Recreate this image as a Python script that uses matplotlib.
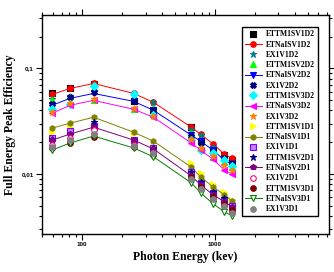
import numpy as np
import matplotlib
matplotlib.use("Agg")
import matplotlib.pyplot as plt
from matplotlib.ticker import FixedLocator, FuncFormatter, NullFormatter, LogLocator

# photon energies (keV)
energy = [59.5, 81, 122, 244.7, 344.3, 661.7, 778.9, 964, 1173, 1332]

# detector group D2
ettm1sv1d2 = [0.0578, 0.0644, 0.0703, 0.0486, 0.0400, 0.0277, 0.0204, 0.0168, 0.0151, 0.0135]
etnaisv1d2 = [0.0566, 0.0644, 0.0718, 0.0578, 0.0476, 0.0277, 0.0238, 0.0192, 0.0154, 0.0141]
ex1v1d2 = [0.0508, 0.0530, 0.0673, 0.0566, 0.0476, 0.0259, 0.0233, 0.0180, 0.0135, 0.0122]
ettm1sv2d2 = [0.0497, 0.0542, 0.0497, 0.0409, 0.0418, 0.0243, 0.0180, 0.0145, 0.0130, 0.0116]
etnaisv2d2 = [0.0446, 0.0519, 0.0578, 0.0486, 0.0400, 0.0233, 0.0204, 0.0168, 0.0135, 0.0124]
ex1v2d2 = [0.0456, 0.0530, 0.0591, 0.0486, 0.0400, 0.0228, 0.0196, 0.0161, 0.0141, 0.0127]
ettm1sv3d2 = [0.0409, 0.0456, 0.0673, 0.0566, 0.0359, 0.0209, 0.0168, 0.0158, 0.0135, 0.0119]
etnaisv3d2 = [0.0375, 0.0446, 0.0497, 0.0409, 0.0344, 0.0196, 0.0168, 0.0138, 0.0109, 0.0100]
ex1v3d2 = [0.0383, 0.0466, 0.0508, 0.0418, 0.0351, 0.0213, 0.0176, 0.0148, 0.0122, 0.0109]

# detector group D1
ettm1sv1d1 = [0.0248, 0.0277, 0.0295, 0.0243, 0.0180, 0.0127, 0.0102, 0.00805, 0.00677, 0.00569]
etnaisv1d1 = [0.0271, 0.0302, 0.0344, 0.0248, 0.0204, 0.0116, 0.00937, 0.00754, 0.00635, 0.00557]
ex1v1d1 = [0.0218, 0.0254, 0.0283, 0.0209, 0.0176, 0.0104, 0.00823, 0.00663, 0.00569, 0.00500]
ettm1sv2d1 = [0.0213, 0.0233, 0.0308, 0.0209, 0.0176, 0.0104, 0.00841, 0.00677, 0.00595, 0.00489]
etnaisv2d1 = [0.0209, 0.0238, 0.0277, 0.0209, 0.0172, 0.00958, 0.00788, 0.00635, 0.00545, 0.00489]
ex1v2d1 = [0.0187, 0.0218, 0.0259, 0.0187, 0.0158, 0.00917, 0.00738, 0.00569, 0.00500, 0.00439]
ettm1sv3d1 = [0.0176, 0.0196, 0.0223, 0.0180, 0.0151, 0.00937, 0.00754, 0.00608, 0.00522, 0.00459]
etnaisv3d1 = [0.0168, 0.0196, 0.0228, 0.0176, 0.0145, 0.00823, 0.00663, 0.00522, 0.00439, 0.00403]
ex1v3d1 = [0.0180, 0.0209, 0.0238, 0.0183, 0.0158, 0.00897, 0.00723, 0.00582, 0.00500, 0.00430]

# (label, values, marker, colour, with line, filled)
series = [
    ("ETTM1SV1D2", ettm1sv1d2, "s", "#000000", False, True),
    ("ETNaISV1D2", etnaisv1d2, "o", "#ff0000", True, True),
    ("EX1V1D2", ex1v1d2, "*", "#008080", False, True),
    ("ETTM1SV2D2", ettm1sv2d2, "^", "#00ff00", False, True),
    ("ETNaISV2D2", etnaisv2d2, "v", "#0000ff", True, True),
    ("EX1V2D2", ex1v2d2, "X", "#000080", False, True),
    ("ETTM1SV3D2", ettm1sv3d2, "D", "#00ffff", False, True),
    ("ETNaISV3D2", etnaisv3d2, "<", "#ff00ff", True, True),
    ("EX1V3D2", ex1v3d2, "*", "#ff8000", False, True),
    ("ETTM1SV1D1", ettm1sv1d1, ">", "#ffff00", False, True),
    ("ETNaISV1D1", etnaisv1d1, "h", "#808000", True, True),
    ("EX1V1D1", ex1v1d1, "s", "#8000ff", False, True),
    ("ETTM1SV2D1", ettm1sv2d1, "*", "#000080", False, True),
    ("ETNaISV2D1", etnaisv2d1, "p", "#800080", True, True),
    ("EX1V2D1", ex1v2d1, "o", "#ff0080", False, False),
    ("ETTM1SV3D1", ettm1sv3d1, "o", "#800000", False, True),
    ("ETNaISV3D1", etnaisv3d1, "v", "#008000", True, False),
    ("EX1V3D1", ex1v3d1, "o", "#808080", False, True),
]

fig = plt.figure(figsize=(3.34, 2.72), dpi=100)
ax = fig.add_axes([0.126, 0.140, 0.859, 0.805])

for label, vals, mk, col, line, filled in series:
    ms = 5 if mk == "*" else 4
    mfc = col if filled else "white"
    if label == "EX1V1D1":
        mfc = "#c080ff"
    ax.plot(energy, vals, marker=mk, color=col, markersize=ms,
            markerfacecolor=mfc, markeredgecolor=col, markeredgewidth=0.8,
            linestyle="-" if line else "none", linewidth=0.7, label=label)

ax.set_xscale("log")
ax.set_yscale("log")
ax.set_xlim(50, 7200)
ax.set_ylim(0.0027, 0.32)

ax.xaxis.set_major_locator(FixedLocator([100, 1000]))
ax.xaxis.set_minor_locator(LogLocator(base=10, subs=np.arange(2, 10)))
ax.xaxis.set_major_formatter(FuncFormatter(lambda v, p: f"{int(v)}"))
ax.xaxis.set_minor_formatter(NullFormatter())
ax.yaxis.set_major_locator(FixedLocator([0.01, 0.1]))
ax.yaxis.set_minor_locator(LogLocator(base=10, subs=np.arange(2, 10)))
ax.yaxis.set_major_formatter(FuncFormatter(lambda v, p: "0,1" if v > 0.05 else "0,01"))
ax.yaxis.set_minor_formatter(NullFormatter())

ax.tick_params(which="both", direction="out", top=True, right=True, width=0.8)
ax.tick_params(which="major", length=4, labelsize=4.5, pad=2)
ax.tick_params(which="minor", length=2.5)
for t in ax.get_xticklabels() + ax.get_yticklabels():
    t.set_fontweight("bold")
    t.set_family("Liberation Sans")
for s in ax.spines.values():
    s.set_linewidth(1.0)

ax.set_xlabel("Photon Energy (kev)", fontsize=8.5, fontweight="bold",
              family="Liberation Serif", labelpad=3)
ax.set_ylabel("Full Energy Peak Efficiency", fontsize=8.5, fontweight="bold",
              family="Liberation Serif", labelpad=4)

leg = ax.legend(loc="upper left", bbox_to_anchor=(0.696, 0.944),
                prop={"family": "Liberation Serif", "weight": "bold", "size": 5.5},
                frameon=True, fancybox=False, edgecolor="black", framealpha=1,
                handlelength=2.2, handletextpad=0.5, labelspacing=0.3,
                borderpad=0.4, borderaxespad=0)
leg.get_frame().set_linewidth(1.0)

fig.savefig("out.png", dpi=100)
